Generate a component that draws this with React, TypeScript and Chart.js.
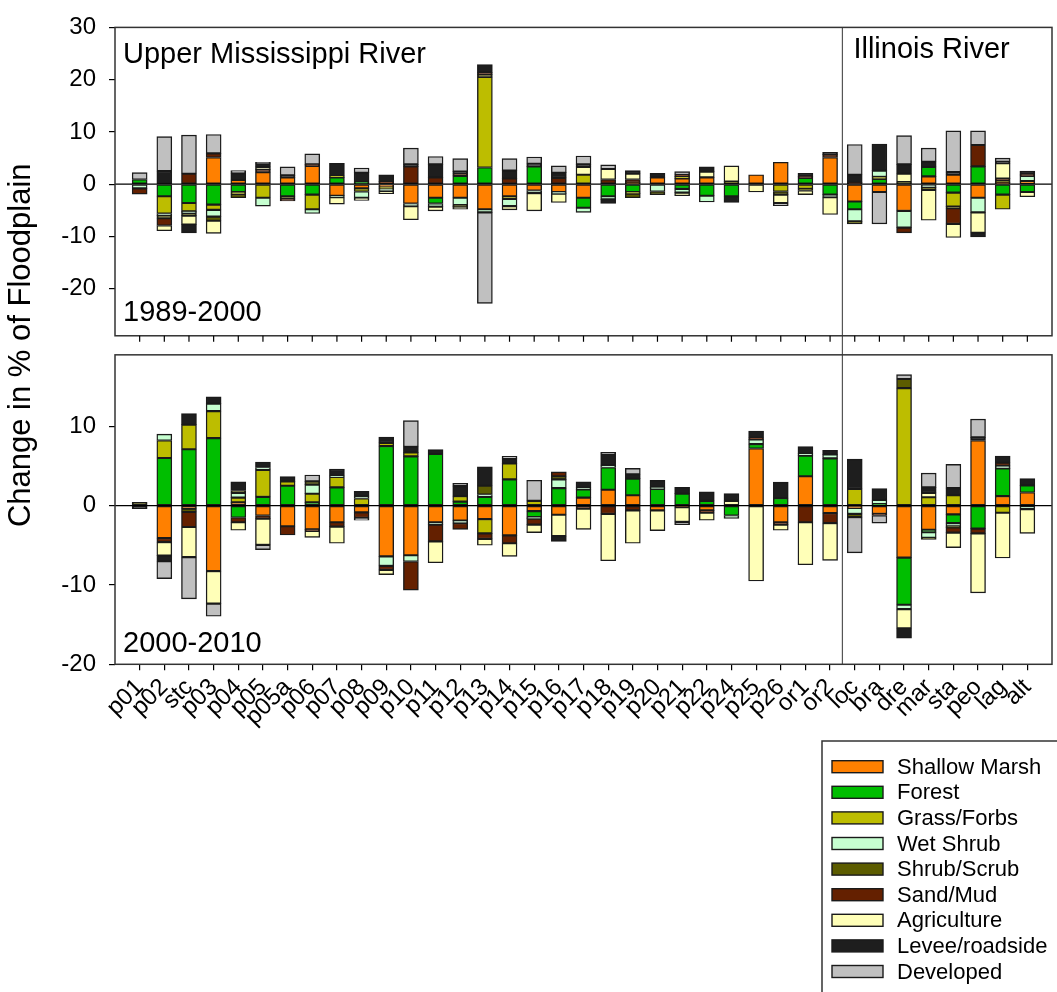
import React, { useEffect, useRef } from 'react';
import { Chart, registerables } from 'chart.js';

Chart.register(...registerables);

// Floodplain reaches, upstream to downstream; Illinois River reaches start at "loc"
const sites = ['p01', 'p02', 'stc', 'p03', 'p04', 'p05', 'p05a', 'p06', 'p07', 'p08', 'p09', 'p10', 'p11', 'p12', 'p13', 'p14', 'p15', 'p16', 'p17', 'p18', 'p19', 'p20', 'p21', 'p22', 'p24', 'p25', 'p26', 'or1', 'or2', 'loc', 'bra', 'dre', 'mar', 'sta', 'peo', 'lag', 'alt'];
const firstIllinois = 'loc';

const classNames = ['Shallow Marsh', 'Forest', 'Grass/Forbs', 'Wet Shrub', 'Shrub/Scrub', 'Sand/Mud', 'Agriculture', 'Levee/roadside', 'Developed'];
const classColors = ['#FF8000', '#00BE00', '#BDBD00', '#C6FFD0', '#5C5C00', '#642000', '#FFFFB8', '#1E1E1E', '#C0C0C0'];

// Change in % of floodplain, 1989-2000
const marsh89 = [0, 0, 0, 5.1, 0.8, 2.3, 1.3, 3.5, -2.2, -0.8, -0.5, -3.7, -2.6, -2.6, -4.8, -2.3, -1.2, -1.5, -2.6, 0, 0.3, 1.3, 1.1, 1.3, 0, 1.8, 4.2, 0, 5.1, -3.3, -1.5, -5.1, 1.5, 1.8, -2.6, 0.3, 0.6];
const forest89 = [0.9, -2.3, -3.6, -3.9, -1.5, 0, -2.3, -2.0, 1.3, 0.4, 0, 0, -1.1, 1.6, 3.2, 0, 3.4, 0, -1.9, -2.3, -1.5, 0, -0.9, -2.2, -2.3, 0, 0, 1.2, -2.0, -1.5, 1.0, 0, 1.8, -1.6, 3.4, -2.0, -1.5];
const grass89 = [0, -3.3, -1.6, -1.0, -0.4, -2.6, 0, -2.8, 0.3, -0.6, -0.4, 0, 0, 0, 17.3, -0.5, 0, 0, 1.8, 0, -0.3, 0, 0.4, 0, 0, 0, -1.4, -0.9, 0, 0, 0.4, 0, 0, -2.7, 0, -2.8, 0];
const wetShrub89 = [-0.8, -0.4, -0.3, -1.3, 0, -1.6, 0, -0.8, -0.3, -1.2, -0.4, -0.5, -0.6, -1.4, -0.6, -1.4, -0.5, -0.3, -0.9, -0.6, 0, -1.4, -0.7, -1.2, 0, 0, 0, 0, -0.5, -2.3, 1.2, -3.2, -0.6, 0, -2.8, 0, 1.0];
const shrub89 = [0, -0.5, -0.5, -0.8, -0.7, 0, -0.5, 0, 0, 0, 0, 0, 0, -0.3, 0.45, 0, 0, 0, 0, 0, -0.8, -0.6, 0, 0, 0.5, 0, -0.6, -0.3, 0, -0.5, 0, 0.4, -0.5, -0.3, 0, 0.5, 0];
const sand89 = [-1.1, -1.4, 2.0, 0.8, 0, 0.5, -0.4, 0.3, 0, 0, 0.5, 3.4, 1.3, 0.5, 0.45, 1.1, 0, 1.2, 0, 0.9, 0.6, 0, 0.3, 0, 0, 0, 0, 0.3, 0.6, 0.3, 0, -1.0, 0, -3.0, 4.1, 0.3, 0.3];
const agri89 = [0, -1.0, -1.7, -2.4, 0, 0.5, 0, 0, -1.3, -0.5, -0.5, -2.6, -0.8, -0.5, 0, -0.7, -3.4, -1.7, 1.5, 2.0, 1.1, 0, -0.6, 1.1, 3.0, -1.5, -1.6, -0.8, -3.3, 0, 0, 1.6, -5.8, -2.6, -3.9, 2.9, -0.9];
const levee89 = [0, 2.5, -1.6, 0, 1.3, 0.6, 0.4, 0, 2.4, 1.8, 1.3, 0.4, 2.5, 0.3, 1.5, 1.5, 0.5, 1.0, 0.5, -0.8, 0.6, 0.8, 0, 0.9, -1.2, 0, 0, 0.6, 0.4, 1.5, 5.1, 1.8, 1.0, 0.5, -0.8, 0.3, 0.6];
const developed89 = [1.3, 6.6, 7.4, 3.6, 0.5, 0.3, 1.6, 2.0, 0, 0.9, 0, 3.1, 1.5, 2.5, -17.4, 2.3, 1.3, 1.3, 1.6, 0.8, 0, 0, 0.6, 0, 0, 0, -0.5, 0, 0, 5.8, -6.1, 5.5, 2.6, 7.9, 2.7, 0.7, 0];

// Change in % of floodplain, 2000-2010
const marsh00 = [0, -4.1, -0.4, -8.25, 0.4, -1.25, -2.6, -3.0, -2.1, -0.85, -6.4, -6.25, -2.1, -1.9, -1.7, -3.75, -0.7, -1.15, 1.0, 2.0, 1.3, -0.6, 0, -0.6, 0, 7.2, -2.1, 3.7, -0.95, -0.3, -1.05, -6.55, -3.05, -1.1, 8.2, 1.2, 1.65];
const forest00 = [0, 6.0, 7.1, 8.5, -1.5, 1.1, 2.5, 0.4, 2.3, 0, 7.5, 6.2, 6.5, 0.5, 1.1, 3.3, -0.75, 2.2, 1.05, 2.8, 2.1, 2.1, 1.5, 0.6, -1.25, 0.55, 0.95, 2.6, 5.95, 0, 0.2, -5.95, -0.3, -1.1, -2.9, 3.5, 0.9];
const grass00 = [0, 2.2, 3.1, 3.4, 0.6, 3.4, 0.55, 1.1, 1.3, 0.9, 0.4, 0.5, 0, 0.7, -1.8, 2.0, 0.6, 0, 0, 0, 0, 0, 0, 0, 0, 0, 0, 0, 0, 2.1, 0, 14.8, 1.05, 1.3, 0, -0.9, 0];
const wetShrub00 = [0, 0.8, 0, 0.95, 0.6, 0.3, 0, 1.15, 0.15, 0.3, -1.2, -0.8, -0.3, -0.3, 0.3, 0, -0.2, 1.1, 0.2, 0.3, 0, 0.2, 0, 0, -0.35, 0.6, 0, 0.25, 0.5, -0.75, 0.5, -0.55, -0.7, -0.4, 0, 0.3, -0.45];
const shrub00 = [0.4, 0, -0.4, 0, 0.3, 0, 0, 0.4, 0, 0, 0, 0, 0, 0, 1.1, 0, 0, 0.4, 0, 0, 0, 0, 0, 0, 0, 0, 0, 0, 0, -0.4, 0, 1.15, -0.2, -0.15, 0, 0, 0];
const sand00 = [0, -0.5, -1.9, 0, -0.6, -0.4, -1.1, -0.2, -0.55, -0.7, -0.5, -3.6, -2.1, -0.8, -0.7, -1.0, -0.75, 0.55, -0.4, -1.05, -0.6, 0, -0.2, -0.3, 0, 0.2, -0.3, -2.1, -1.25, 0, -0.2, 0, 0, -0.65, -0.6, 0.4, 0];
const agri00 = [0, -1.7, -3.8, -4.1, -1.0, -3.3, 0, -0.8, -2.1, 0, -0.6, 0, -2.7, 0, -0.8, -1.65, -1.0, -2.7, -2.6, -5.9, -4.15, -2.55, -1.85, -0.95, 0.6, -9.5, -0.7, -5.35, -4.7, 0, 0, -2.4, 0.55, -1.9, -7.5, -5.7, -3.05];
const levee00 = [-0.4, -0.7, 1.4, 0.85, 1.1, 0.7, 0.6, 0, 0.85, 0.6, 0.75, 0.7, 0.55, 1.25, 2.4, 0.6, 0, -0.65, 0.75, 1.4, 0.55, 0.9, 0.8, 1.15, 0.9, 0.85, 2.0, 0.9, 0.5, 3.75, 1.45, -1.25, 0.7, 0.9, 0.4, 0.85, 0.85];
const developed00 = [0, -2.2, -5.25, -1.6, 0, -0.6, 0, 0.8, 0, -0.3, 0, 3.3, 0, 0.35, 0, 0.3, 2.6, 0, 0, 0.2, 0.75, 0, -0.35, 0, 0, 0, 0, 0, 0, -4.5, -0.95, 0.55, 1.8, 3.0, 2.3, 0, 0];

const period89 = [marsh89, forest89, grass89, wetShrub89, shrub89, sand89, agri89, levee89, developed89];
const period00 = [marsh00, forest00, grass00, wetShrub00, shrub00, sand00, agri00, levee00, developed00];

// Y-axis ranges and tick step for the two panels
const topRange = { min: -29, max: 30 };
const bottomRange = { min: -20, max: 19 };
const tickStep = 10;

const FONT = "'Liberation Sans', Arial, sans-serif";

function toPoints(values: number[]) {
  return values.map((v, i) => ({ x: i, y: v === 0 ? null : v }));
}

function makeDatasets(series: number[][], axisId: string) {
  return series.map((values, k) => ({
    label: classNames[k],
    data: toPoints(values),
    yAxisID: axisId,
    xAxisID: 'x',
    backgroundColor: classColors[k],
    borderColor: '#1a1a1a',
    borderWidth: 1.4,
    borderSkipped: false,
    grouped: false,
    barThickness: 15,
  }));
}

function line(ctx: CanvasRenderingContext2D, x1: number, y1: number, x2: number, y2: number) {
  ctx.beginPath();
  ctx.moveTo(x1, y1);
  ctx.lineTo(x2, y2);
  ctx.stroke();
}

const panelDecor = {
  id: 'panelDecor',
  afterDatasetsDraw(chart: any) {
    const { ctx, chartArea, scales } = chart;
    const xs = scales.x;
    const yT = scales.yTop;
    const yB = scales.yBot;
    const left = chartArea.left;
    const right = chartArea.right;
    ctx.save();

    // zero reference lines
    ctx.strokeStyle = '#000';
    ctx.lineWidth = 1.2;
    for (const ys of [yT, yB]) {
      const py = ys.getPixelForValue(0);
      line(ctx, left, py, right, py);
    }

    // boundary between the two rivers
    const splitX = xs.getPixelForValue(sites.indexOf(firstIllinois) - 0.5);
    ctx.strokeStyle = '#555';
    ctx.lineWidth = 1.2;
    line(ctx, splitX, yT.top, splitX, yB.bottom);

    // panel frames
    ctx.strokeStyle = '#333';
    ctx.lineWidth = 1.5;
    for (const ys of [yT, yB]) {
      ctx.strokeRect(left, ys.top, right - left, ys.bottom - ys.top);
    }

    // category tick marks under the upper panel
    ctx.strokeStyle = '#000';
    ctx.lineWidth = 1.2;
    sites.forEach((_, i) => {
      const px = xs.getPixelForValue(i);
      line(ctx, px, yT.bottom, px, yT.bottom + 6);
    });

    // panel captions
    ctx.fillStyle = '#000';
    ctx.textBaseline = 'alphabetic';
    ctx.textAlign = 'left';
    ctx.font = `29px ${FONT}`;
    ctx.fillText('Upper Mississippi River', left + 8, yT.top + 35.5);
    ctx.fillText('Illinois River', splitX + 11, yT.top + 31);
    ctx.fillText('1989-2000', left + 8, yT.bottom - 14.5);
    ctx.fillText('2000-2010', left + 8, yB.bottom - 12);

    // legend box
    const lx = 822;
    const ly = 741;
    ctx.strokeStyle = '#333';
    ctx.lineWidth = 1.5;
    ctx.strokeRect(lx, ly, 400, 400);
    ctx.font = `22px ${FONT}`;
    ctx.textBaseline = 'middle';
    classNames.forEach((name, i) => {
      const cy = ly + 25.7 + i * 25.6;
      ctx.fillStyle = classColors[i];
      ctx.fillRect(lx + 10, cy - 6, 51, 12);
      ctx.strokeStyle = '#1a1a1a';
      ctx.lineWidth = 1.4;
      ctx.strokeRect(lx + 10, cy - 6, 51, 12);
      ctx.fillStyle = '#000';
      ctx.fillText(name, lx + 75, cy + 1);
    });

    ctx.restore();
  },
};

const yTickStyle = {
  stepSize: tickStep,
  includeBounds: false,
  color: '#000',
  font: { family: FONT, size: 24 },
  padding: 13,
};

const yGrid = {
  drawOnChartArea: false,
  drawTicks: true,
  tickLength: 6,
  color: '#000',
  lineWidth: 1.2,
};

export default function App() {
  const canvasRef = useRef<HTMLCanvasElement | null>(null);

  useEffect(() => {
    const canvas = canvasRef.current;
    if (!canvas) return;
    const chart = new Chart(canvas, {
      type: 'bar',
      data: {
        datasets: [...makeDatasets(period89, 'yTop'), ...makeDatasets(period00, 'yBot')] as any,
      },
      options: {
        responsive: false,
        animation: false,
        events: [],
        layout: { padding: { left: 0, right: 5, top: 19.5, bottom: 0 } },
        plugins: { legend: { display: false }, tooltip: { enabled: false } },
        scales: {
          x: {
            type: 'linear',
            position: 'bottom',
            min: -1,
            max: sites.length,
            offset: false,
            stacked: true,
            afterBuildTicks: (s: any) => {
              s.ticks = sites.map((_, i) => ({ value: i }));
            },
            afterFit: (s: any) => {
              s.height = 992 - 664.3;
            },
            ticks: {
              autoSkip: false,
              minRotation: 45,
              maxRotation: 45,
              padding: 3,
              color: '#000',
              font: { family: FONT, size: 24 },
              callback: (v: any) => sites[v as number] ?? '',
            },
            grid: { drawOnChartArea: false, drawTicks: true, tickLength: 6, color: '#000', lineWidth: 1.2, offset: false },
            border: { display: false },
          },
          yBot: {
            type: 'linear',
            position: 'left',
            stack: 'panels',
            stackWeight: 313.3,
            weight: 1,
            stacked: true,
            min: bottomRange.min,
            max: bottomRange.max,
            ticks: yTickStyle,
            grid: yGrid,
            border: { display: false },
            afterFit: (s: any) => {
              s.width = 115;
            },
          },
          yGap: {
            type: 'linear',
            position: 'left',
            stack: 'panels',
            stackWeight: 19.3,
            weight: 2,
            display: true,
            min: 0,
            max: 1,
            ticks: { display: false },
            grid: { display: false, drawTicks: false },
            border: { display: false },
            title: {
              display: true,
              text: 'Change in % of Floodplain',
              color: '#000',
              font: { family: FONT, size: 31 },
              padding: { top: 3, bottom: 0 },
            },
            afterFit: (s: any) => {
              s.width = 115;
            },
          },
          yTop: {
            type: 'linear',
            position: 'left',
            stack: 'panels',
            stackWeight: 312.2,
            weight: 3,
            stacked: true,
            min: topRange.min,
            max: topRange.max,
            ticks: yTickStyle,
            grid: yGrid,
            border: { display: false },
            afterFit: (s: any) => {
              s.width = 115;
            },
          },
        },
      } as any,
      plugins: [panelDecor],
    });
    return () => chart.destroy();
  }, []);

  return (
    <div style={{ position: 'fixed', left: 0, top: 0, width: 1057, height: 992, background: '#fff' }}>
      <canvas ref={canvasRef} width={1057} height={992} style={{ display: 'block' }} />
    </div>
  );
}
